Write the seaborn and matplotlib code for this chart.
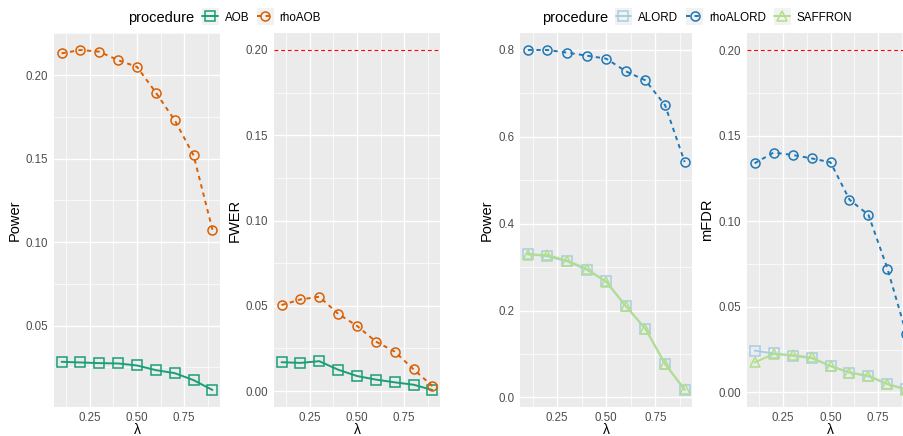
import matplotlib
matplotlib.use("Agg")
import matplotlib.pyplot as plt
import numpy as np
import pandas as pd
import seaborn as sns
from matplotlib.lines import Line2D
from matplotlib.patches import Rectangle
from matplotlib.ticker import FixedLocator, MultipleLocator, FormatStrFormatter

# ---------------- data ----------------
lam = [0.1, 0.2, 0.3, 0.4, 0.5, 0.6, 0.7, 0.8, 0.9]

aob_power = [0.0283, 0.0279, 0.0275, 0.0273, 0.0261, 0.0233, 0.0215, 0.0173, 0.0114]
rhoaob_power = [0.2131, 0.2151, 0.2141, 0.2090, 0.2050, 0.1896, 0.1730, 0.1520, 0.1074]
aob_fwer = [0.0169, 0.0165, 0.0175, 0.0125, 0.0088, 0.0067, 0.0051, 0.0037, 0.0006]
rhoaob_fwer = [0.0504, 0.0537, 0.0553, 0.0453, 0.0382, 0.0290, 0.0231, 0.0127, 0.0029]

alord_power = [0.3305, 0.3250, 0.3135, 0.2940, 0.2670, 0.2100, 0.1580, 0.0770, 0.0170]
rhoalord_power = [0.800, 0.800, 0.794, 0.787, 0.780, 0.751, 0.730, 0.673, 0.542]
saffron_power = [0.3290, 0.3280, 0.3150, 0.2965, 0.2656, 0.2100, 0.1580, 0.0770, 0.0185]
alord_mfdr = [0.0244, 0.0228, 0.0214, 0.0200, 0.0155, 0.0116, 0.0094, 0.0049, 0.0018]
rhoalord_mfdr = [0.1338, 0.1401, 0.1387, 0.1367, 0.1344, 0.1126, 0.1037, 0.0723, 0.0342]
saffron_mfdr = [0.0175, 0.0224, 0.0218, 0.0204, 0.0153, 0.0116, 0.0098, 0.0049, 0.0014]

level = 0.2

procs1 = ["AOB", "rhoAOB"]
procs2 = ["ALORD", "rhoALORD", "SAFFRON"]

df1 = pd.DataFrame({
    "lambda": lam * 2,
    "procedure": [p for p in procs1 for _ in lam],
    "Power": aob_power + rhoaob_power,
    "FWER": aob_fwer + rhoaob_fwer,
})
df2 = pd.DataFrame({
    "lambda": lam * 3,
    "procedure": [p for p in procs2 for _ in lam],
    "Power": alord_power + rhoalord_power + saffron_power,
    "mFDR": alord_mfdr + rhoalord_mfdr + saffron_mfdr,
})

# ---------------- styles ----------------
DASH = (2.2, 2.2)
pal1 = {"AOB": "#1B9E77", "rhoAOB": "#D95F02"}
mk1 = {"AOB": "s", "rhoAOB": "o"}
dash1 = {"AOB": "", "rhoAOB": DASH}
pal2 = {"ALORD": "#A6CEE3", "rhoALORD": "#1F78B4", "SAFFRON": "#B2DF8A"}
mk2 = {"ALORD": "s", "rhoALORD": "o", "SAFFRON": "^"}
dash2 = {"ALORD": "", "rhoALORD": DASH, "SAFFRON": ""}

LW = 1.4
MS = 6.5
MEW = 1.1

sns.set_theme(style="darkgrid", rc={
    "axes.facecolor": "#EBEBEB",
    "grid.color": "white",
    "axes.edgecolor": "#EBEBEB",
})
plt.rcParams["font.family"] = ["Liberation Sans", "DejaVu Sans"]

W, H = 904, 436
fig = plt.figure(figsize=(W / 100, H / 100), dpi=100)
fig.patch.set_facecolor("white")

TOP, BOT = 33, 407


def add_ax(left, right):
    return fig.add_axes([left / W, 1 - BOT / H, (right - left) / W, (BOT - TOP) / H])


def style_ax(ax, yvals, ystep, yfmt, ylabel, hline=False):
    lo, hi = min(yvals), max(yvals)
    if hline:
        hi = max(hi, level)
    pad = 0.05 * (hi - lo)
    ax.set_ylim(lo - pad, hi + pad)
    ax.set_xlim(0.06, 0.94)
    ax.xaxis.set_major_locator(FixedLocator([0.25, 0.5, 0.75]))
    ax.xaxis.set_minor_locator(FixedLocator([0.125, 0.375, 0.625, 0.875]))
    ax.xaxis.set_major_formatter(FormatStrFormatter("%.2f"))
    ax.yaxis.set_major_locator(MultipleLocator(ystep))
    ax.yaxis.set_minor_locator(MultipleLocator(ystep / 2))
    ax.yaxis.set_major_formatter(FormatStrFormatter(yfmt))
    ax.grid(which="major", color="white", lw=1.0)
    ax.grid(which="minor", color="white", lw=0.5)
    ax.set_axisbelow(True)
    for s in ax.spines.values():
        s.set_visible(False)
    ax.tick_params(which="major", length=2.7, width=0.8, color="#333333",
                   labelcolor="#4D4D4D", labelsize=8.3, pad=1.5)
    ax.tick_params(axis="x", which="major", pad=0.9)
    ax.tick_params(which="minor", length=0)
    ax.set_xlabel("λ", fontsize=10.0, color="black", labelpad=-0.7)
    ax.set_ylabel(ylabel, fontsize=10.5, color="black", labelpad=3.0)
    if hline:
        ax.axhline(level, color="red", lw=0.8, dashes=(3.5, 2.5), zorder=1.5)


def draw(ax, df, y, pal, mk, dash):
    sns.lineplot(data=df, x="lambda", y=y, hue="procedure", style="procedure",
                 palette=pal, markers=mk, dashes=dash, ax=ax, legend=False,
                 lw=LW, markersize=MS, mew=MEW)
    for ln in ax.lines:
        ln.set_markerfacecolor("none")
        ln.set_markeredgecolor(ln.get_color())


ax1 = add_ax(54, 220)
draw(ax1, df1, "Power", pal1, mk1, dash1)
style_ax(ax1, aob_power + rhoaob_power, 0.05, "%.2f", "Power")

ax2 = add_ax(274, 440)
draw(ax2, df1, "FWER", pal1, mk1, dash1)
style_ax(ax2, aob_fwer + rhoaob_fwer, 0.05, "%.2f", "FWER", hline=True)

ax3 = add_ax(520, 692.5)
draw(ax3, df2, "Power", pal2, mk2, dash2)
style_ax(ax3, alord_power + rhoalord_power + saffron_power, 0.2, "%.1f", "Power")

ax4 = add_ax(747, 914)
draw(ax4, df2, "mFDR", pal2, mk2, dash2)
style_ax(ax4, alord_mfdr + rhoalord_mfdr + saffron_mfdr, 0.05, "%.2f", "mFDR", hline=True)


# ---------------- legends ----------------
def fx(px):
    return px / W


def fy(py):
    return 1 - py / H


def legend(title_x, keys, labels, procs, pal, mk, dash):
    yc = 16.5
    fig.text(fx(title_x), fy(yc), "procedure", fontsize=10.5, ha="left",
             va="center_baseline", color="black")
    for kx, lx, p in zip(keys, labels, procs):
        fig.patches.append(Rectangle((fx(kx), fy(yc + 8.5)), fx(17), 17 / H,
                                     transform=fig.transFigure,
                                     facecolor="#F2F2F2", edgecolor="none"))
        ls_kw = {} if dash[p] == "" else {"dashes": dash[p]}
        fig.lines.append(Line2D([fx(kx + 0.5), fx(kx + 16.5)], [fy(yc), fy(yc)],
                                transform=fig.transFigure, color=pal[p], lw=LW,
                                **ls_kw))
        fig.lines.append(Line2D([fx(kx + 8.5)], [fy(yc)], transform=fig.transFigure,
                                marker=mk[p], markersize=MS, mew=MEW,
                                markerfacecolor="none", markeredgecolor=pal[p],
                                linestyle="none"))
        fig.text(fx(lx), fy(yc), p, fontsize=8.4, ha="left", va="center_baseline",
                 color="black")


legend(128, [202, 257], [225, 279], procs1, pal1, mk1, dash1)
legend(542, [615, 686, 774], [638, 709, 797], procs2, pal2, mk2, dash2)

fig.savefig("out.png", dpi=100, facecolor="white")
